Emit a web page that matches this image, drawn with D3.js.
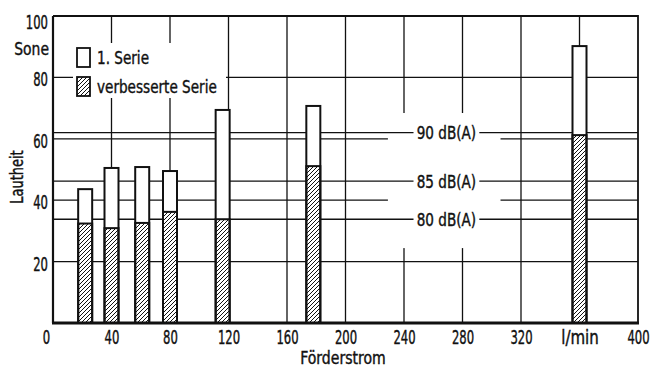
<!DOCTYPE html>
<html>
<head>
<meta charset="utf-8">
<script src="https://cdn.jsdelivr.net/npm/d3@7"></script>
<style>
  html, body { margin: 0; padding: 0; background: #fff; }
  svg { display: block; }
  text { font-family: "DejaVu Sans Condensed", "DejaVu Sans", sans-serif; fill: #111; stroke: #111; stroke-width: 0.4; }
</style>
</head>
<body>
<svg id="chart" width="655" height="369"></svg>
<script>
// Förderstrom (l/min) of each measured pump size
const flowRates = [22, 40, 61, 80, 116, 178, 360];
// Lautheit in Sone
const firstSeries = [43.6, 50.5, 50.8, 49.5, 69.4, 70.7, 90.2];
const improvedSeries = [32.4, 30.9, 32.6, 36.2, 33.8, 51.1, 61.2];

// Reference loudness levels (Sone equivalent of dB(A))
const dbLevels = [62, 46.2, 33.8];
const dbLabels = ["90 dB(A)", "85 dB(A)", "80 dB(A)"];

const xTicks = [0, 40, 80, 120, 160, 200, 240, 280, 320, 360, 400];
const xTickLabels = ["0", "40", "80", "120", "160", "200", "240", "280", "320", "l/min", "400"];
const yTicks = [20, 40, 60, 80, 100];
const legendLabels = ["1. Serie", "verbesserte Serie"];

const svg = d3.select("#chart");
const x = d3.scaleLinear().domain([0, 400]).range([53, 638]);
const y = d3.scaleLinear().domain([0, 100]).range([323, 16]);

// text drawn in a narrowed face
function label(parent, str, px, py, opts = {}) {
  const sx = opts.sx ?? 0.87;
  return parent.append("text")
    .attr("transform", `translate(${px},${py}) ${opts.rotate ? "rotate(" + opts.rotate + ")" : ""} scale(${sx},1)`)
    .attr("text-anchor", opts.anchor || "start")
    .attr("font-size", opts.size || 18)
    .text(str);
}

// diagonal hatching
const defs = svg.append("defs");
defs.append("pattern")
  .attr("id", "hatch")
  .attr("patternUnits", "userSpaceOnUse")
  .attr("width", 4).attr("height", 4)
  .append("path")
  .attr("d", "M-1,1 l2,-2 M0,4 l4,-4 M3,5 l2,-2")
  .attr("stroke", "#111").attr("stroke-width", 1);

// grid
const grid = svg.append("g").attr("stroke", "#111").attr("stroke-width", 1.3);
grid.selectAll("line.h").data(yTicks.filter(d => d < 100)).join("line")
  .attr("x1", x(0)).attr("x2", x(400))
  .attr("y1", d => y(d)).attr("y2", d => y(d));
grid.selectAll("line.v").data(xTicks.filter(d => d > 0 && d < 400)).join("line")
  .attr("x1", d => x(d)).attr("x2", d => x(d))
  .attr("y1", y(100)).attr("y2", y(0));

// cleared area around the dB(A) labels
svg.append("rect")
  .attr("x", x(229)).attr("y", y(68.4))
  .attr("width", x(306) - x(229)).attr("height", y(24.4) - y(68.4))
  .attr("fill", "#fff");

// dB(A) reference lines with labels
const dbG = svg.append("g");
dbG.selectAll("line").data(dbLevels).join("line")
  .attr("x1", x(0)).attr("x2", x(400))
  .attr("y1", d => y(d)).attr("y2", d => y(d))
  .attr("stroke", "#111").attr("stroke-width", 1.3);
dbG.selectAll("rect").data(dbLevels).join("rect")
  .attr("x", x(246.5)).attr("width", x(291.5) - x(246.5))
  .attr("y", d => y(d) - 8).attr("height", 16)
  .attr("fill", "#fff");
dbLevels.forEach((d, i) => label(dbG, dbLabels[i], x(269), y(d) + 6.5, { anchor: "middle", sx: 0.84 }));

// legend
svg.append("rect")
  .attr("x", 73).attr("y", 43).attr("width", 153).attr("height", 55)
  .attr("fill", "#fff");
const legend = svg.append("g");
legendLabels.forEach((lab, i) => {
  const ly = 48 + i * 29;
  legend.append("rect")
    .attr("x", 77).attr("y", ly).attr("width", 13).attr("height", 19)
    .attr("fill", i === 0 ? "#fff" : "url(#hatch)")
    .attr("stroke", "#111").attr("stroke-width", 1.8);
  label(legend, lab, 97, ly + 16, { sx: 0.84 });
});

// bars
const barW = 14;
const bars = svg.append("g");
bars.selectAll("rect.s1").data(flowRates).join("rect")
  .attr("class", "s1")
  .attr("x", d => x(d) - barW / 2).attr("width", barW)
  .attr("y", (d, i) => y(firstSeries[i]))
  .attr("height", (d, i) => y(0) - y(firstSeries[i]))
  .attr("fill", "#fff").attr("stroke", "#111").attr("stroke-width", 2);
bars.selectAll("rect.s2").data(flowRates).join("rect")
  .attr("class", "s2")
  .attr("x", d => x(d) - barW / 2).attr("width", barW)
  .attr("y", (d, i) => y(improvedSeries[i]))
  .attr("height", (d, i) => y(0) - y(improvedSeries[i]))
  .attr("fill", "url(#hatch)").attr("stroke", "#111").attr("stroke-width", 2);

// frame
svg.append("path")
  .attr("d", `M${x(0)},${y(100)} H${x(400)} V${y(0)}`)
  .attr("fill", "none").attr("stroke", "#111").attr("stroke-width", 1.8);
svg.append("line")
  .attr("x1", x(0)).attr("x2", x(0)).attr("y1", y(100)).attr("y2", y(0))
  .attr("stroke", "#111").attr("stroke-width", 2.2);
svg.append("line")
  .attr("x1", x(0) - 1).attr("x2", x(400) + 1).attr("y1", y(0)).attr("y2", y(0))
  .attr("stroke", "#111").attr("stroke-width", 2.8);

// tick labels
const yAxis = d3.axisLeft(y).tickValues(yTicks).tickSize(0).tickFormat(d3.format("d"));
const yg = svg.append("g").attr("transform", `translate(${x(0)},0)`).call(yAxis);
yg.select(".domain").remove();
yg.selectAll(".tick text")
  .attr("x", null).attr("dy", null)
  .attr("transform", d => `translate(-5,${d === 100 ? 12 : 8.5}) scale(0.68,1)`)
  .attr("font-size", 19).attr("font-family", null).attr("fill", "#111");

const xAxis = d3.axisBottom(x).tickValues(xTicks).tickSize(0)
  .tickFormat((d, i) => xTickLabels[i]);
const xg = svg.append("g").attr("transform", `translate(0,${y(0)})`).call(xAxis);
xg.select(".domain").remove();
xg.selectAll(".tick text")
  .attr("y", null).attr("dy", null)
  .attr("transform", d => `translate(${d === 0 ? -7 : 0},21) scale(${d === 360 ? 0.88 : 0.68},1)`)
  .attr("font-size", 19).attr("font-family", null).attr("fill", "#111");

// axis titles
label(svg, "Sone", 49, 55, { anchor: "end", sx: 0.86 });
label(svg, "Lautheit", 23, 177, { anchor: "middle", rotate: -90, sx: 0.8 });
label(svg, "Förderstrom", 343, 364, { anchor: "middle", sx: 0.92, size: 17 });
</script>
</body>
</html>
